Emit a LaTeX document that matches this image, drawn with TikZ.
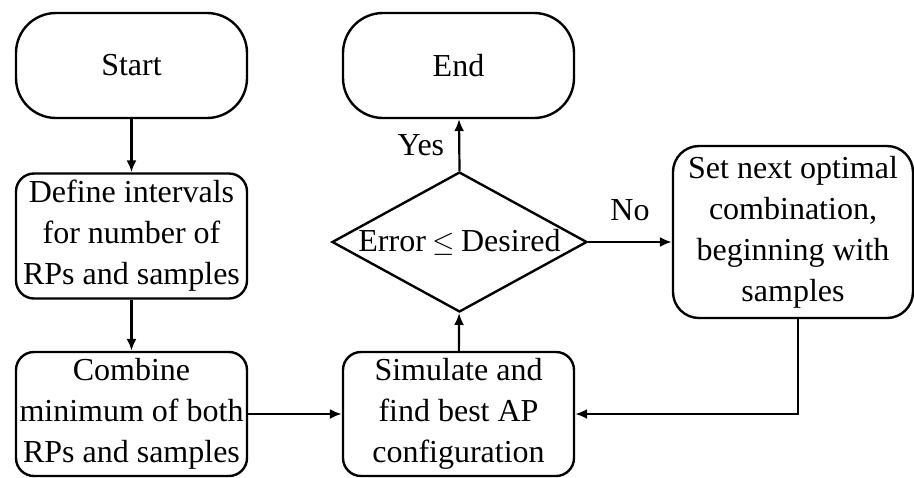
\documentclass[tikz,border=0pt]{standalone}
\usepackage{fontspec}
\setmainfont{Liberation Serif}
\usetikzlibrary{shapes.geometric,arrows.meta}
\begin{document}
\begin{tikzpicture}[x=0.5pt,y=-0.5pt,
  every node/.style={font=\fontsize{16}{20.5}\selectfont},
  box/.style={draw, line width=1.2pt, rectangle, align=center, inner sep=0pt,
    minimum width=115.5pt},
  term/.style={box, minimum height=52.5pt, rounded corners=20pt},
  proc/.style={box, minimum height=62.5pt, rounded corners=9pt},
  decide/.style={draw, line width=1.2pt, diamond, aspect=1.82, inner sep=0pt,
    minimum width=127.5pt, minimum height=70pt},
  flow/.style={draw, line width=1.1pt, -{Latex[length=6pt,width=5pt]}},
  lbl/.style={inner sep=0pt}]
\useasboundingbox (0,0) rectangle (914,477);

\node[term] (start) at (131.5,65.5) {Start};
\node[proc] (define) at (131.5,236) {Define intervals\\for number of\\RPs and samples};
\node[proc, minimum height=62pt] (combine) at (131.5,414) {Combine\\minimum of both\\RPs and samples};
\node[term] (end) at (458.5,65.5) {End};
\node[decide] (check) at (459.5,242)
  {Error\hspace{0.2em}{\fontsize{15}{15}\selectfont$\leq$}\hspace{0.2em}Desired};
\node[proc, minimum height=62pt] (simulate) at (458.5,414) {Simulate and\\find best AP\\configuration};
\node[box, minimum width=120pt, minimum height=86pt, rounded corners=13pt] (next) at (793,232)
  {Set next optimal\\combination,\\beginning with\\samples};

\coordinate (turn) at (798,414);

\draw[flow] (start) -- (define);
\draw[flow] (define) -- (combine);
\draw[flow] (combine) -- (simulate);
\draw[flow] (simulate) -- (check);
\draw[flow] (check.north) -- node[lbl, left=7pt] {Yes} (end);
\draw[flow] (check.east) -- node[lbl, above=10pt] {No} (next.west |- check.east);
\draw[flow] (next.south -| turn) -- (turn) -- (simulate.east |- turn);
\end{tikzpicture}
\end{document}
